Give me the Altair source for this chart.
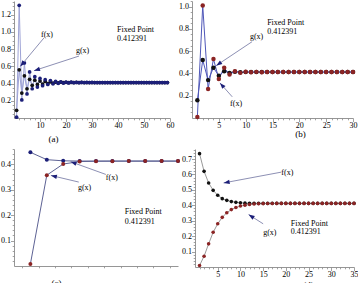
import math
import altair as alt
import pandas as pd

FONT = "Liberation Serif"
NAVY = "#1c1f78"
RED = "#8b2424"
BLACK = "#111111"

# ---------------- data ----------------
# panel (a)
a_x = list(range(1, 60))
a_g = [0.01, 1.31, 0.21, 0.64, 0.28, 0.535, 0.34, 0.48, 0.36, 0.46,
       0.375, 0.445, 0.39, 0.435, 0.397, 0.425, 0.403, 0.42, 0.406, 0.418,
       0.408, 0.416, 0.41, 0.415, 0.411, 0.414, 0.4115, 0.4135, 0.412, 0.413,
       0.4124, 0.4124, 0.4124, 0.4124, 0.4124, 0.4124, 0.4124, 0.4124, 0.4124, 0.4124,
       0.4124, 0.4124, 0.4124, 0.4124, 0.4124, 0.4124, 0.4124, 0.4124, 0.4124, 0.4124,
       0.4124, 0.4124, 0.4124, 0.4124, 0.4124, 0.4124, 0.4124, 0.4124, 0.4124]
a_f = [0.09, 0.56, 0.29, 0.49, 0.34, 0.45, 0.38, 0.44, 0.39, 0.43,
       0.395, 0.425, 0.40, 0.42, 0.405, 0.418, 0.408, 0.416, 0.41, 0.415,
       0.411, 0.414, 0.4115, 0.4135, 0.412, 0.413, 0.4124, 0.4124, 0.4124, 0.4124,
       0.4124, 0.4124, 0.4124, 0.4124, 0.4124, 0.4124, 0.4124, 0.4124, 0.4124, 0.4124,
       0.4124, 0.4124, 0.4124, 0.4124, 0.4124, 0.4124, 0.4124, 0.4124, 0.4124, 0.4124,
       0.4124, 0.4124, 0.4124, 0.4124, 0.4124, 0.4124, 0.4124, 0.4124, 0.4124]

# panel (b)
b_x = list(range(1, 31))
b_g = [0.01, 1.01, 0.26, 0.53, 0.35, 0.45, 0.39, 0.42, 0.405, 0.416,
       0.41, 0.414, 0.411, 0.413, 0.412, 0.4124, 0.4124, 0.4124, 0.4124, 0.4124,
       0.4124, 0.4124, 0.4124, 0.4124, 0.4124, 0.4124, 0.4124, 0.4124, 0.4124, 0.4124]
b_f = [0.16, 0.52, 0.34, 0.45, 0.38, 0.42, 0.405, 0.415, 0.41, 0.413,
       0.412, 0.4124, 0.4124, 0.4124, 0.4124, 0.4124, 0.4124, 0.4124, 0.4124, 0.4124,
       0.4124, 0.4124, 0.4124, 0.4124, 0.4124, 0.4124, 0.4124, 0.4124, 0.4124, 0.4124]

# panel (c)
c_x = list(range(1, 11))
c_f = [0.447, 0.418, 0.4135, 0.4126, 0.4124, 0.4124, 0.4124, 0.4124, 0.4124, 0.4124]
c_g = [0.008, 0.357, 0.401, 0.4105, 0.412, 0.4123, 0.4124, 0.4124, 0.4124, 0.4124]

# panel (d)
d_x = list(range(1, 36))
d_f = [0.735, 0.62, 0.545, 0.497, 0.465, 0.443, 0.432, 0.424, 0.419, 0.416,
       0.414, 0.413, 0.4127, 0.4125, 0.4124, 0.4124, 0.4124, 0.4124, 0.4124, 0.4124,
       0.4124, 0.4124, 0.4124, 0.4124, 0.4124, 0.4124, 0.4124, 0.4124, 0.4124, 0.4124,
       0.4124, 0.4124, 0.4124, 0.4124, 0.4124]
d_g = [0.01, 0.07, 0.15, 0.225, 0.28, 0.322, 0.352, 0.372, 0.386, 0.395,
       0.401, 0.405, 0.408, 0.41, 0.411, 0.4115, 0.412, 0.4124, 0.4124, 0.4124,
       0.4124, 0.4124, 0.4124, 0.4124, 0.4124, 0.4124, 0.4124, 0.4124, 0.4124, 0.4124,
       0.4124, 0.4124, 0.4124, 0.4124, 0.4124]

# annotation texts (x, y, text) and arrows (x1, y1, x2, y2), data coordinates
a_texts = [(10.4, 0.97, "f(x)"), (23.8, 0.78, "g(x)"),
           (39.6, 1.02, "Fixed Point"), (39.6, 0.92, "0.412391")]
a_arrows = [(11.5, 0.93, 2.4, 0.60), (25.0, 0.72, 7.7, 0.55)]

b_texts = [(10.8, 0.73, "g(x)"), (7.1, 0.13, "f(x)"),
           (14.0, 0.85, "Fixed Point"), (14.0, 0.77, "0.412391")]
b_arrows = [(11.2, 0.685, 4.5, 0.47), (7.5, 0.19, 5.2, 0.315)]

c_texts = [(5.6, 0.346, "f(x)"), (3.9, 0.308, "g(x)"),
           (6.75, 0.213, "Fixed Point"), (6.75, 0.174, "0.412391")]
c_arrows = [(5.6, 0.36, 3.45, 0.41), (3.95, 0.33, 2.25, 0.356)]

d_texts = [(19.0, 0.61, "f(x)"), (15.0, 0.22, "g(x)"),
           (21.1, 0.28, "Fixed Point"), (21.1, 0.227, "0.412391")]
d_arrows = [(19.0, 0.615, 6.3, 0.545), (15.0, 0.28, 11.8, 0.34)]

# axis ticks (major labelled, minor step)
a_xmajor, a_xminor = [10, 20, 30, 40, 50, 60], 2
a_ymajor, a_yminor = [0.2, 0.4, 0.6, 0.8, 1.0, 1.2], 0.05
b_xmajor, b_xminor = [5, 10, 15, 20, 25, 30], 1
b_ymajor, b_yminor = [0.2, 0.4, 0.6, 0.8, 1.0], 0.05
c_xmajor, c_xminor = [2, 4, 6, 8, 10], 0.5
c_ymajor, c_yminor = [0.1, 0.2, 0.3, 0.4], 0.02
d_xmajor, d_xminor = [5, 10, 15, 20, 25, 30, 35], 1
d_ymajor, d_yminor = [0.1, 0.2, 0.3, 0.4, 0.5, 0.6, 0.7], 0.02

ARROW_SHAPE = "M0,0L-0.8,2.2L0.8,2.2Z"


def make_axis(major, minor_step, dom, fmt, title=None, title_x=None, title_y=None):
    step = major[1] - major[0]
    n = int(round(dom[1] / minor_step))
    vals = [round(i * minor_step, 6) for i in range(1, n + 1) if i * minor_step <= dom[1] + 1e-9]
    test = f"abs(datum.value/{step} - round(datum.value/{step})) < 0.000001"
    kw = dict(
        values=vals,
        format=fmt,
        labelExpr=f"({test}) ? datum.label : ''",
        labelOverlap=False,
        labelFlush=False,
        labelFont=FONT,
        labelFontSize={"condition": {"test": test, "value": 8}, "value": 0.01},
        labelColor="#000000",
        labelPadding=0,
        tickSize={"condition": {"test": test, "value": 3.5}, "value": 1.8},
        tickColor="#8a8a8a",
        tickWidth=0.8,
        domainColor="#8a8a8a",
        domainWidth=0.9,
        grid=False,
    )
    if title is not None:
        kw.update(title=title, titleFont=FONT, titleFontSize=9, titleFontWeight="normal",
                  titleColor="#000000", titleX=title_x, titleY=title_y,
                  titleBaseline="top", titleAlign="center")
    else:
        kw.update(title="")
    return alt.Axis(**kw)


def panel(xs, f, g, f_color, g_color, line_color, f_on_top, xdom, ydom, w, h,
          xmajor, xminor, ymajor, yminor, title, tx, ty, texts, arrows, msize):
    xaxis = make_axis(xmajor, xminor, xdom, "d", title, tx, ty)
    yaxis = make_axis(ymajor, yminor, ydom, ".1f")
    xs_ = alt.Scale(domain=xdom, nice=False, zero=False)
    ys_ = alt.Scale(domain=ydom, nice=False, zero=False)

    def X(field):
        return alt.X(field, type="quantitative", scale=xs_, axis=xaxis)

    def Y(field):
        return alt.Y(field, type="quantitative", scale=ys_, axis=yaxis)

    df_f = pd.DataFrame({"x": xs, "y": f})
    df_g = pd.DataFrame({"x": xs, "y": g})

    sx = w / (xdom[1] - xdom[0])
    sy = h / (ydom[1] - ydom[0])
    arr = []
    for (x1, y1, x2, y2) in arrows:
        dx = (x2 - x1) * sx
        dy = -(y2 - y1) * sy
        ang = math.degrees(math.atan2(dx, -dy)) % 360
        arr.append({"x": x1, "y": y1, "x2": x2, "y2": y2, "ang": ang})
    df_a = pd.DataFrame(arr)
    df_t = pd.DataFrame([{"x": t[0], "y": t[1], "t": t[2]} for t in texts])

    line_f = alt.Chart(df_f).mark_line(color=line_color, strokeWidth=1).encode(x=X("x"), y=Y("y"))
    line_g = alt.Chart(df_g).mark_line(color=line_color, strokeWidth=1).encode(x=X("x"), y=Y("y"))
    pts_f = alt.Chart(df_f).mark_circle(size=msize, color=f_color, opacity=1).encode(x=X("x"), y=Y("y"))
    pts_g = alt.Chart(df_g).mark_circle(size=msize, color=g_color, opacity=1).encode(x=X("x"), y=Y("y"))
    shafts = alt.Chart(df_a).mark_rule(color="#8d90b4", strokeWidth=1).encode(
        x=X("x"), y=Y("y"), x2="x2:Q", y2="y2:Q")
    heads = alt.Chart(df_a).mark_point(shape=ARROW_SHAPE, filled=True, size=30, color=NAVY,
                                       opacity=1, strokeWidth=0).encode(
        x=X("x2"), y=Y("y2"), angle=alt.Angle("ang:Q", scale=None))
    txt = alt.Chart(df_t).mark_text(align="left", baseline="middle", font=FONT, fontSize=8,
                                    color="#000000", fill="#000000").encode(
        x=X("x"), y=Y("y"), text="t:N")
    pts = [pts_g, pts_f] if f_on_top else [pts_f, pts_g]
    return alt.layer(line_f, line_g, *pts, shafts, heads, txt).properties(width=w, height=h)


pa = panel(a_x, a_f, a_g, BLACK, NAVY, "#9ea3d6", False, [0, 60], [0, 1.36], 156, 117,
           a_xmajor, a_xminor, a_ymajor, a_yminor, "(a)", 39, 16, a_texts, a_arrows, 14)
pb = panel(b_x, b_f, b_g, BLACK, RED, "#4f57b8", False, [0, 30], [0, 1.05], 161, 117,
           b_xmajor, b_xminor, b_ymajor, b_yminor, "(b)", 108, 11, b_texts, b_arrows, 20)
pc = panel(c_x, c_f, c_g, NAVY, RED, "#5d6294", False, [0, 10], [0, 0.46], 164, 117,
           c_xmajor, c_xminor, c_ymajor, c_yminor, "(c)", 42, 12, c_texts, c_arrows, 16)
pd_ = panel(d_x, d_f, d_g, BLACK, RED, "#9a9a9a", False, [0, 35], [0, 0.765], 159, 118,
            d_xmajor, d_xminor, d_ymajor, d_yminor, "(d)", 113, 13, d_texts, d_arrows, 13)

top = alt.hconcat(pa, pb, spacing=4)
bottom = alt.hconcat(pc, pd_, spacing=1)
chart = alt.vconcat(top, bottom, spacing=5).properties(
    padding={"left": 0, "top": 0, "right": 0, "bottom": 0},
    background="white",
).configure_view(stroke=None)

chart.save("out.html", embed_options={"renderer": "svg", "actions": False})
